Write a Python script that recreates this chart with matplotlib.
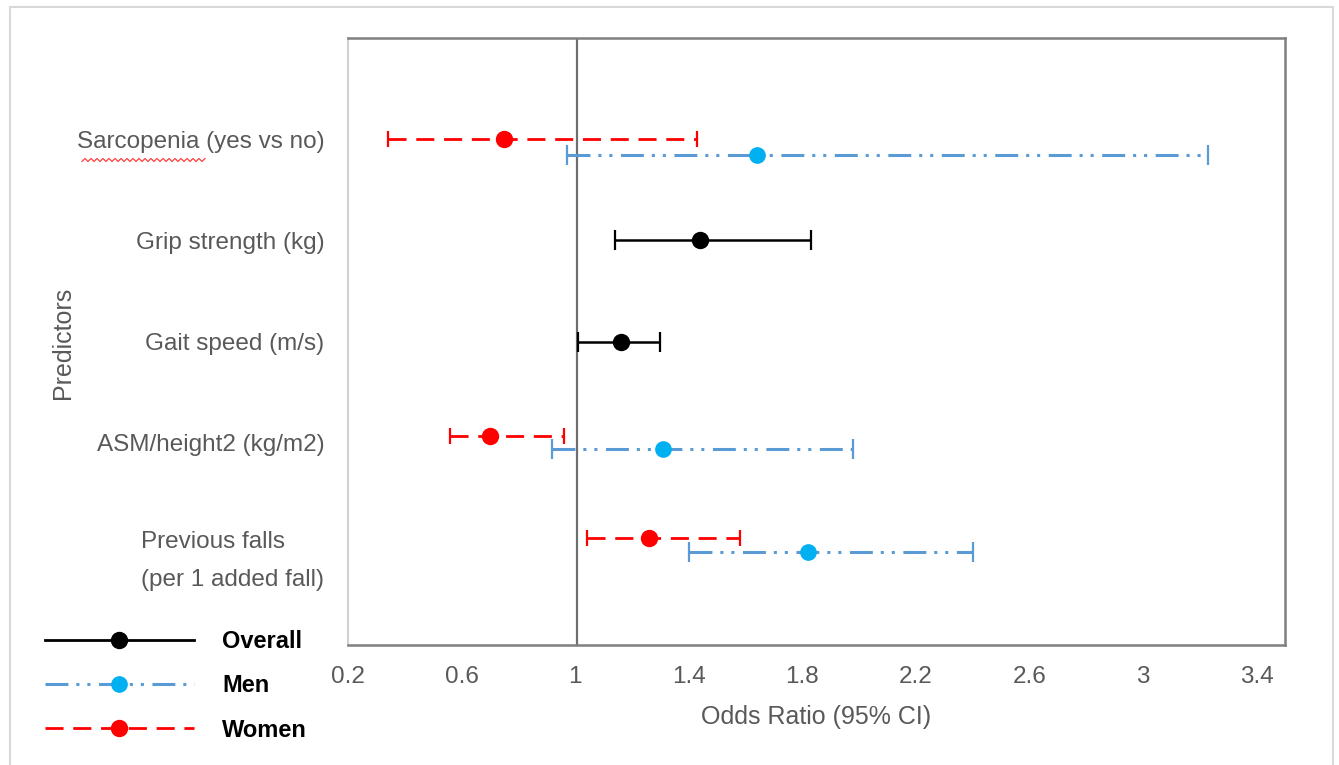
import numpy as np
import matplotlib.pyplot as plt
from matplotlib.lines import Line2D
from matplotlib.patches import Rectangle

# predictors, top to bottom
labels = ['Sarcopenia (yes vs no)', 'Grip strength (kg)', 'Gait speed (m/s)',
          'ASM/height2 (kg/m2)', 'Previous falls\n(per 1 added fall)']
label_pos = [5, 4, 3, 2, 0.93]

# overall (grip strength, gait speed)
ov_y = [4, 3]
ov_or = [1.44, 1.16]
ov_lo = [1.14, 1.01]
ov_hi = [1.83, 1.30]

# men (sarcopenia, ASM/height2, previous falls)
men_y = [4.84, 1.94, 0.92]
men_or = [1.64, 1.31, 1.82]
men_lo = [0.97, 0.92, 1.40]
men_hi = [3.23, 1.98, 2.40]

# women (sarcopenia, ASM/height2, previous falls)
wom_y = [5.0, 2.07, 1.06]
wom_or = [0.75, 0.70, 1.26]
wom_lo = [0.34, 0.56, 1.04]
wom_hi = [1.43, 0.96, 1.58]

xticks = [0.2, 0.6, 1, 1.4, 1.8, 2.2, 2.6, 3, 3.4]

plt.rcParams['font.family'] = ['Liberation Sans', 'DejaVu Sans']
grey_txt = '#595959'
men_line = '#5B9BD5'
men_mark = '#00B0F0'
men_dash = (7.5, 2.6, 1, 2.6, 1, 2.8)
wom_dash = (6.5, 3.5)

fig = plt.figure(figsize=(13.39, 7.65), dpi=100)
ax = fig.add_axes([348/1339, 1-645/765, 937/1339, 607/765])

# outer frame
fig.patches.append(Rectangle((10/1339, -0.05), 1323/1339, 1.05 - 7/765, transform=fig.transFigure,
                             fill=False, edgecolor='#D9D9D9', lw=1.5))

ax.axvline(1.005, color='#6E6E6E', lw=1.6, zorder=1)

def err(x, lo, hi):
    x = np.array(x)
    return [x - np.array(lo), np.array(hi) - x]

e = ax.errorbar(ov_or, ov_y, xerr=err(ov_or, ov_lo, ov_hi), fmt='o', color='black',
                ms=11.5, elinewidth=1.8, capsize=7, capthick=1.6, zorder=3)

e = ax.errorbar(men_or, men_y, xerr=err(men_or, men_lo, men_hi), fmt='o', color=men_line,
                mfc=men_mark, mec=men_mark, ms=11, elinewidth=2.2, capsize=7,
                capthick=1.6, ecolor=men_line, zorder=3)
e[2][0].set_linestyle((0, men_dash))
for c in e[1]:
    c.set_color(men_mark)

e = ax.errorbar(wom_or, wom_y, xerr=err(wom_or, wom_lo, wom_hi), fmt='o', color='red',
                ms=11.5, elinewidth=2.0, capsize=5.5, capthick=1.6, zorder=4)
e[2][0].set_linestyle((0, wom_dash))

ax.set_xlim(0.2, 3.5)
ax.set_ylim(0, 6)
ax.set_xticks(xticks)
ax.set_xticklabels([f'{t:g}' for t in xticks])
ax.set_yticks(label_pos)
ax.set_yticklabels(labels, multialignment='left', linespacing=1.9)
ax.tick_params(axis='both', length=0, labelsize=17.5, colors=grey_txt)
ax.tick_params(axis='x', pad=15)
ax.tick_params(axis='y', pad=17)

for s in ['top', 'right', 'bottom']:
    ax.spines[s].set_color('#7F7F7F')
    ax.spines[s].set_linewidth(1.8)
ax.spines['left'].set_color('#D0D0D0')
ax.spines['left'].set_linewidth(1.5)

fig.text(63/1339, 1-343/765, 'Predictors', rotation=90, ha='center', va='center',
         fontsize=18, color=grey_txt)
fig.text(816/1339, 1-717/765, 'Odds Ratio (95% CI)', ha='center', va='center',
         fontsize=18, color=grey_txt)

# spell-check squiggle under "Sarcopenia"
sx = np.arange(82, 206, 3.0)
sy = 160 + 1.5 * (-1) ** np.arange(len(sx))
fig.add_artist(Line2D(sx/1339, 1 - sy/765, transform=fig.transFigure, color='#FF4040', lw=0.9))

handles = [
    Line2D([], [], color='black', lw=2, marker='o', ms=11.5),
    Line2D([], [], color=men_line, lw=2.2, dashes=men_dash, marker='o', ms=11,
           mfc=men_mark, mec=men_mark),
    Line2D([], [], color='red', lw=2, dashes=wom_dash, marker='o', ms=11.5),
]
leg = fig.legend(handles, ['Overall', 'Men', 'Women'], loc='center left',
                 bbox_to_anchor=(33/1339, 1-686/765), frameon=False, borderpad=0,
                 handlelength=6.3, handletextpad=1.2, labelspacing=0.9,
                 prop={'size': 17, 'weight': 'bold'})

fig.savefig('out.png', dpi=100)
